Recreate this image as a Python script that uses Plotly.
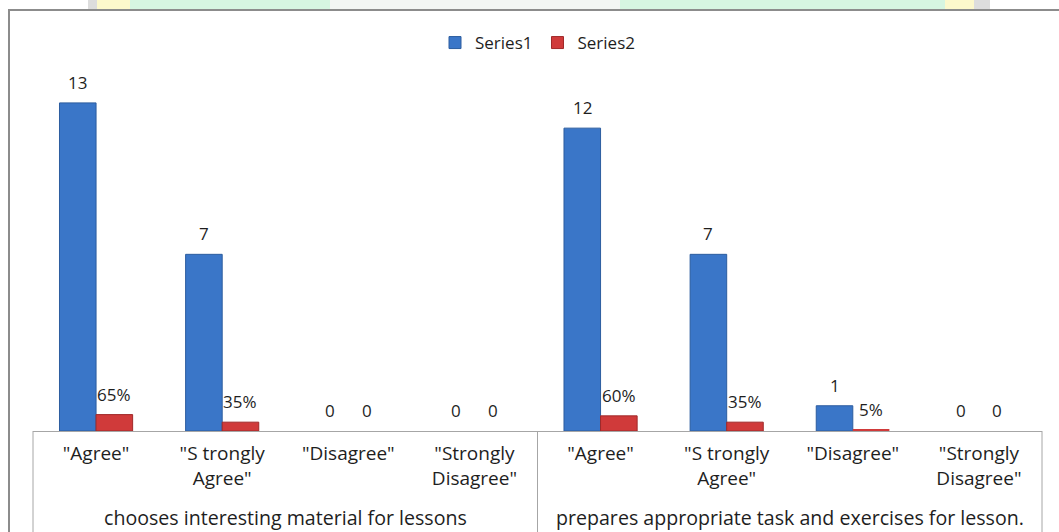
import plotly.graph_objects as go

# Survey responses for two lesson-planning statements
groups = ["chooses interesting material for lessons",
          "prepares appropriate task and exercises for lesson."]
categories = ['"Agree"', '"S trongly<br>Agree"', '"Disagree"', '"Strongly<br>Disagree"',
              '"Agree"', '"S trongly<br>Agree"', '"Disagree"', '"Strongly<br>Disagree"']
series1 = [13, 7, 0, 0, 12, 7, 1, 0]                       # counts
series2 = [0.65, 0.35, 0, 0, 0.60, 0.35, 0.05, 0]          # shares

W_PX, H_PX = 1059, 532
M_L, M_R, M_T, M_B = 33, 17, 60, 101
PW = W_PX - M_L - M_R
PH = H_PX - M_T - M_B
FONT = "Open Sans"
TXT = "#1e1e1e"


def px_x(px):
    return (px - M_L) / PW


def px_y(py):
    return (H_PX - M_B - py) / PH


idx = list(range(len(categories)))
OFF, BW = 0.145, 0.29
x1 = [i - OFF for i in idx]
x2 = [i + OFF for i in idx]

fig = go.Figure()
fig.add_trace(go.Bar(
    name="Series1", x=x1, y=series1, width=BW,
    marker=dict(color="#3a76c8",
                line=dict(color="#2c5d9f", width=[1 if v else 0 for v in series1])),
))
fig.add_trace(go.Bar(
    name="Series2", x=x2, y=series2, width=BW,
    marker=dict(color="#d03a3a",
                line=dict(color="#a02828", width=[1 if v >= 0.1 else 0 for v in series2])),
))

annotations = []
for x, v in zip(x1, series1):
    annotations.append(dict(x=x, y=v, xref="x", yref="y", text=str(v), showarrow=False,
                            yanchor="bottom", yshift=7, font=dict(size=17, color=TXT, family=FONT)))
for x, v in zip(x2, series2):
    label = f"{round(v * 100)}%" if v else "0"
    annotations.append(dict(x=x, y=v, xref="x", yref="y", text=label, showarrow=False,
                            yanchor="bottom", yshift=7, font=dict(size=17, color=TXT, family=FONT)))

# group captions under the category labels
for g, name in enumerate(groups):
    annotations.append(dict(x=g * 4 + 1.5, y=px_y(517), xref="x", yref="paper", text=name,
                            showarrow=False, yanchor="middle",
                            font=dict(size=19.6, color=TXT, family=FONT)))

shapes = []
# faint logo band along the top edge
band = [(88, 97, "#dddddd"), (97, 130, "#fcf8cc"), (130, 945, "#d6f5e1"),
        (330, 620, "#f3f6f4"), (945, 974, "#fcf8cc"), (974, 990, "#dddddd")]
for a, b, c in band:
    shapes.append(dict(type="rect", xref="paper", yref="paper", x0=px_x(a), x1=px_x(b),
                       y0=px_y(0), y1=px_y(9), line=dict(width=0), fillcolor=c, layer="below"))
# chart frame
shapes.append(dict(type="rect", xref="paper", yref="paper", x0=px_x(9), x1=px_x(1080),
                   y0=px_y(10), y1=px_y(560), line=dict(color="#8c8c8c", width=2),
                   fillcolor="rgba(0,0,0,0)", layer="below"))
# category table dividers
for xp in (0, 0.5, 1):
    shapes.append(dict(type="line", xref="paper", yref="paper", x0=xp, x1=xp,
                       y0=0, y1=px_y(545), line=dict(color="#a6a6a6", width=1)))

fig.update_layout(
    width=W_PX, height=H_PX,
    margin=dict(l=M_L, r=M_R, t=M_T, b=M_B),
    paper_bgcolor="white", plot_bgcolor="white",
    barmode="overlay",
    showlegend=True,
    legend=dict(orientation="h", x=0.5, xanchor="center", y=px_y(43), yanchor="middle",
                font=dict(size=17, color=TXT, family=FONT), itemwidth=30,
                tracegroupgap=0),
    font=dict(family=FONT, color=TXT),
    xaxis=dict(range=[-0.5, 7.5], tickvals=idx, ticktext=categories, showgrid=False,
               zeroline=False, showline=True, linecolor="#a6a6a6", linewidth=1,
               ticks="", ticklabelstandoff=5, tickfont=dict(size=19, color=TXT, family=FONT)),
    yaxis=dict(range=[0, 14.7], visible=False, showgrid=False, zeroline=False),
    annotations=annotations,
    shapes=shapes,
)

fig.write_html("out.html")
